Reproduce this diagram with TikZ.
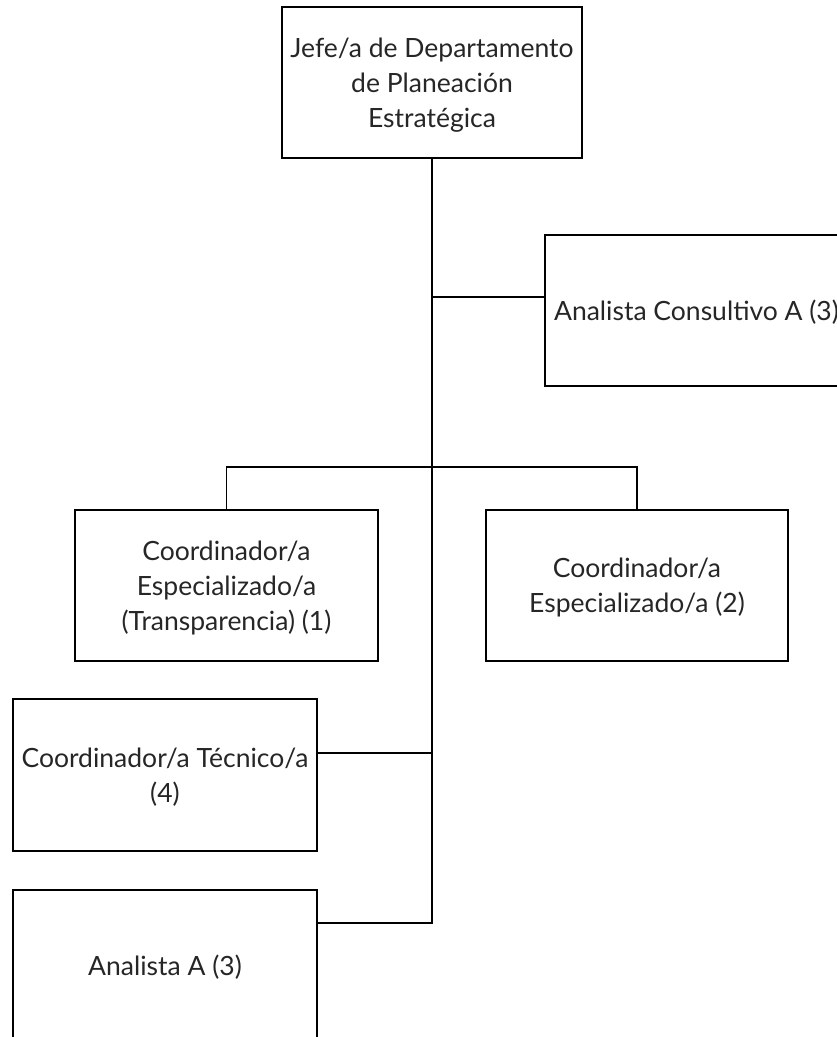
\documentclass[tikz,border=0pt]{standalone}
\usepackage{fontspec}
\setmainfont{Lato}
\begin{document}
\begin{tikzpicture}[x=1pt,y=-1pt,
  box/.style={draw=black,line width=1.5pt,rectangle,inner sep=0pt,align=center,
    text depth=0pt,font=\fontsize{26.5}{35}\selectfont,text=black!85},
  conn/.style={draw=black,line width=1.5pt}]
\useasboundingbox (0,0) rectangle (837,1037);
\clip (0,0) rectangle (837,1037);
\node[box,minimum width=300pt,minimum height=151pt] (jefe) at (432,82.5)
  {Jefe/a de Departamento\\de Planeación\\Estratégica};
\node[box,minimum width=303pt,minimum height=151pt] (cons) at (696.5,310.5)
  {Analista Consultivo A (3)};
\node[box,minimum width=303pt,minimum height=151pt] (c1) at (226.5,585.5)
  {Coordinador/a\\Especializado/a\\(Transparencia) (1)};
\node[box,minimum width=302pt,minimum height=151pt] (c2) at (637,585.5)
  {Coordinador/a\\Especializado/a (2)};
\node[box,minimum width=304pt,minimum height=152pt] (tec) at (165,775)
  {Coordinador/a Técnico/a\\(4)};
\node[box,minimum width=304pt,minimum height=151pt] (ana) at (165,965.5)
  {Analista A (3)};
\coordinate (t1) at (432,297);
\coordinate (bl) at (226.5,467);
\coordinate (br) at (637,467);
\coordinate (t3) at (432,753);
\coordinate (t4) at (432,923);
\draw[conn] (jefe.south) -- (t4) -- (ana.east |- t4);
\draw[conn] (t1) -- (cons.west |- t1);
\draw[conn] (c1.north) -- (bl) -- (br) -- (c2.north);
\draw[conn] (t3) -- (tec.east |- t3);
\end{tikzpicture}
\end{document}
